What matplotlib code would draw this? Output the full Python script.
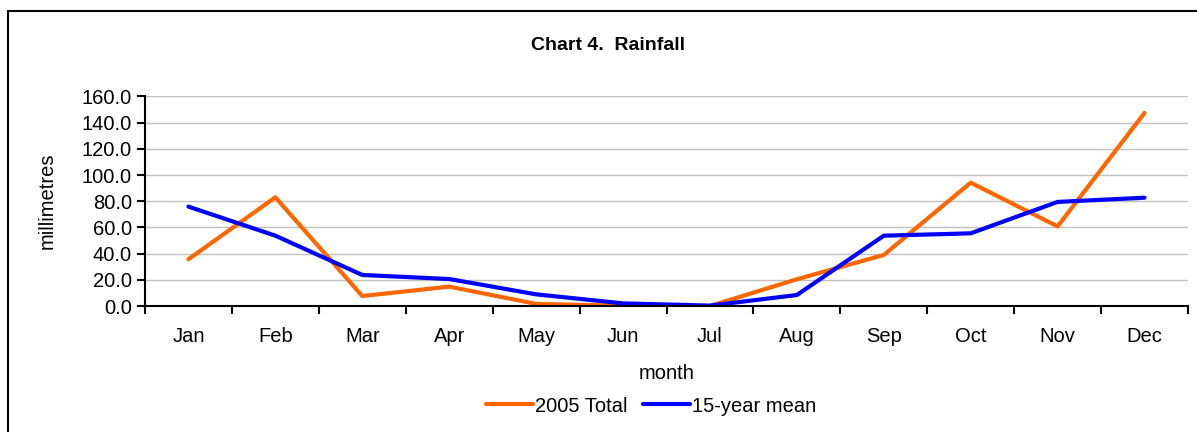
import numpy as np
import matplotlib.pyplot as plt
from matplotlib.patches import Rectangle
#
plt.rcParams['font.family'] = ['Liberation Sans', 'DejaVu Sans']
#----- data (mm)
months = ['Jan', 'Feb', 'Mar', 'Apr', 'May', 'Jun',
          'Jul', 'Aug', 'Sep', 'Oct', 'Nov', 'Dec']
total_2005 = [35.7, 83.0, 7.6, 14.8, 1.6, 0.2, 0.0, 20.4, 39.0, 94.2, 60.8, 147.5]
mean_15yr = [75.9, 53.7, 23.7, 20.6, 8.9, 2.0, 0.3, 8.4, 53.7, 55.5, 79.5, 82.7]
fs = 14.5
#
fig = plt.figure(figsize=(11.97, 4.32), dpi=100)
# outer chart border (runs off right and bottom edges)
fig.patches.append(Rectangle((7.5/1197, -0.05), 1.2, 1 - 10.5/432 + 0.05,
                             transform=fig.transFigure, fill=False,
                             edgecolor='black', lw=1.5))
ax = fig.add_axes([145/1197, 126/432, 1043/1197, 209.5/432])
#
x = np.arange(len(months))
ax.plot(x, total_2005, color='#FF6600', lw=3, label='2005 Total', solid_capstyle='round')
ax.plot(x, mean_15yr, color='#0000FF', lw=3, label='15-year mean', solid_capstyle='round')
#
ax.set_xlim(-0.5, len(months) - 0.5)
ax.set_ylim(0, 160)
ax.set_yticks(np.arange(0, 161, 20))
ax.set_yticklabels(['%.1f' % v for v in np.arange(0, 161, 20)], fontsize=fs)
ax.set_xticks(np.arange(-0.5, len(months), 1.0))
ax.set_xticklabels([])
ax.set_xticks(x, minor=True)
ax.set_xticklabels(months, minor=True, fontsize=fs)
ax.tick_params(axis='x', which='minor', length=0, pad=15)
ax.tick_params(axis='both', which='major', length=6, width=1.5, direction='out')
ax.grid(axis='y', color='#c0c0c0', lw=1)
ax.set_axisbelow(True)
for s in ['top', 'right']:
    ax.spines[s].set_visible(False)
for s in ['left', 'bottom']:
    ax.spines[s].set_linewidth(1.5)
#
ax.set_xlabel('month', fontsize=fs, labelpad=13)
ax.set_ylabel('millimetres', fontsize=fs, labelpad=18)
fig.text(608/1197, 1 - 45/432, 'Chart 4.  Rainfall', ha='center', va='center',
         fontsize=14, fontweight='bold')
ax.legend(loc='center', bbox_to_anchor=(651/1197, 1 - 406/432),
          bbox_transform=fig.transFigure, ncol=2, frameon=False, fontsize=fs,
          handlelength=2.3, handletextpad=0.1, columnspacing=0.8)
#
plt.savefig('out.png', dpi=100)
